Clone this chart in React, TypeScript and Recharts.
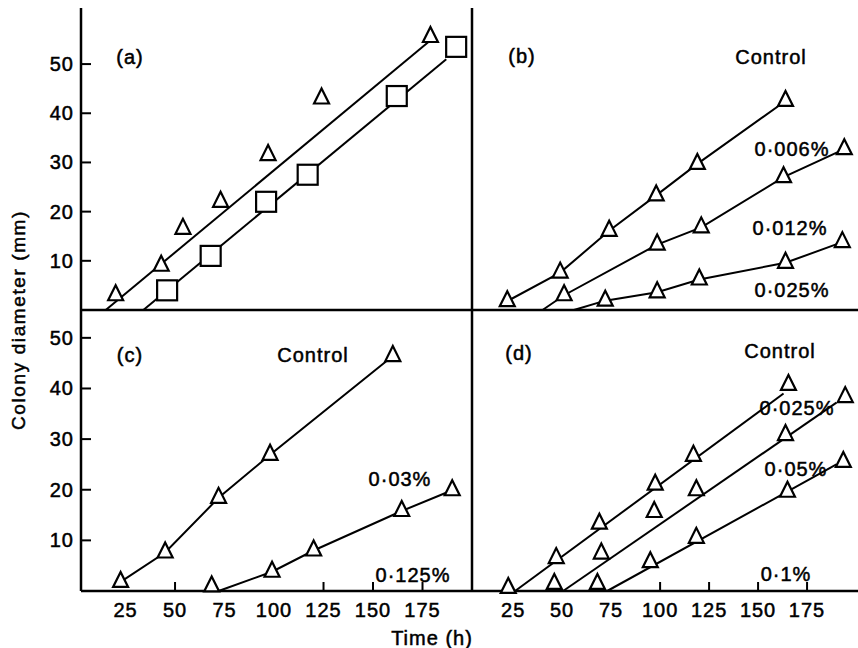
import React from 'react';
import { ComposedChart, Line, Scatter, XAxis, YAxis } from 'recharts';

const W = 858;
const H = 648;
const FONT = '"Liberation Sans", Arial, sans-serif';

// ---------- Panel (a) ----------
const aTriTime = [20, 43, 54, 73, 97, 124, 179];
const aTriDiam = [3, 9, 16.5, 22, 31.5, 43, 55.5];
const aTriFitTime = [15, 178];
const aTriFitDiam = [0, 54.5];
const aSqTime = [46, 68, 96, 117, 162, 192];
const aSqDiam = [4, 11, 22, 27.5, 43.5, 53.5];
const aSqFitTime = [34, 187];
const aSqFitDiam = [0, 51];

// ---------- Panel (b) ----------
const bCtrlTime = [22, 49, 74, 98, 119, 164];
const bCtrlDiam = [1.8, 7.6, 16.1, 23.3, 29.7, 42.5];
const b006Time = [51, 98.5, 121, 163, 194];
const b006Diam = [3, 13.3, 16.8, 27, 32.7];
const b006LineTime = [40, 51, 98.5, 121, 163, 194];
const b006LineDiam = [0, 3, 13.3, 16.8, 27, 32.7];
const b012Time = [72, 98.5, 120, 164, 193];
const b012Diam = [1.9, 3.6, 6.2, 9.6, 13.8];
const b012LineTime = [56, 72, 98.5, 120, 164, 193];
const b012LineDiam = [0, 1.9, 3.6, 6.2, 9.6, 13.8];

// ---------- Panel (c) ----------
const cCtrlTime = [22.5, 45, 72, 98, 160];
const cCtrlDiam = [1.8, 7.6, 18.4, 26.9, 46.4];
const c003Time = [68.5, 99, 120, 164.5, 190];
const c003Diam = [0.9, 3.8, 8, 15.8, 19.9];
const c003LineTime = [72, 99, 120, 164.5, 190];
const c003LineDiam = [0, 3.8, 8, 15.8, 19.9];

// ---------- Panel (d) ----------
const dCtrlTime = [22.5, 47, 69, 97.5, 117, 165.5];
const dCtrlDiam = [0.6, 6.5, 13.3, 21, 26.7, 40.7];
const dCtrlFitTime = [26, 163];
const dCtrlFitDiam = [0, 39];
const d025Time = [46, 70, 97, 118.5, 164, 194.5];
const d025Diam = [1.4, 7.4, 15.6, 19.9, 30.8, 38.3];
const d025FitTime = [50.5, 190];
const d025FitDiam = [0, 37.2];
const d05Time = [68, 95, 118.5, 165, 193.5];
const d05Diam = [1.4, 5.7, 10.5, 19.6, 25.5];
const d05FitTime = [73, 190];
const d05FitDiam = [0, 25];

// ---------- Axes ----------
const xTickValues = [25, 50, 75, 100, 125, 150, 175];
const yTickValues = [10, 20, 30, 40, 50];
const leftXMarks = [50, 125, 150, 175];
const rightXMarks = [100, 125, 150, 175];

const zip = (ts: number[], vs: number[]) => ts.map((t, i) => ({ t, v: vs[i] }));

const TEXT_STYLE = {
  fontFamily: FONT,
  fontSize: 20,
  letterSpacing: 1,
  fill: '#000',
  stroke: '#000',
  strokeWidth: 0.5,
};

const Tri = (p: any) => {
  const { cx, cy } = p;
  if (cx == null || cy == null) return null;
  const w = 15;
  const h = 15;
  return (
    <polygon
      points={`${cx},${cy - (2 * h) / 3} ${cx - w / 2},${cy + h / 3} ${cx + w / 2},${cy + h / 3}`}
      fill="#fff"
      stroke="#000"
      strokeWidth={2.2}
    />
  );
};

const Sq = (p: any) => {
  const { cx, cy } = p;
  if (cx == null || cy == null) return null;
  const s = 20;
  return <rect x={cx - s / 2} y={cy - s / 2} width={s} height={s} fill="#fff" stroke="#000" strokeWidth={2.2} />;
};

const makeXTick = (marks: number[]) => (p: any) => {
  const { x, y, payload } = p;
  const v = payload.value;
  return (
    <g>
      {marks.includes(v) && <line x1={x} y1={y} x2={x} y2={y - 9} stroke="#000" strokeWidth={2} />}
      <text x={x} y={y + 26} textAnchor="middle" {...TEXT_STYLE}>
        {v}
      </text>
    </g>
  );
};

const YTick = (p: any) => {
  const { x, y, payload } = p;
  return (
    <g>
      <line x1={x} y1={y} x2={x + 10} y2={y} stroke="#000" strokeWidth={2} />
      <text x={x - 7} y={y + 7} textAnchor="end" {...TEXT_STYLE}>
        {payload.value}
      </text>
    </g>
  );
};

type Series = { data: { t: number; v: number }[]; kind: 'line' | 'tri' | 'sq' };

type PanelProps = {
  margin: { top: number; right: number; bottom: number; left: number };
  xDomain: [number, number];
  yDomain: [number, number];
  left: boolean;
  bottom: boolean;
  marks: number[];
  series: Series[];
};

function Panel({ margin, xDomain, yDomain, left, bottom, marks, series }: PanelProps) {
  return (
    <div style={{ position: 'absolute', left: 0, top: 0, width: W, height: H }}>
      <ComposedChart width={W} height={H} margin={margin}>
        <XAxis
          type="number"
          dataKey="t"
          domain={xDomain}
          ticks={bottom ? xTickValues : []}
          tick={bottom ? makeXTick(marks) : false}
          tickLine={false}
          tickSize={0}
          tickMargin={0}
          height={bottom ? 40 : 1}
          axisLine={{ stroke: '#000', strokeWidth: 2.5 }}
          interval={0}
        />
        <YAxis
          type="number"
          dataKey="v"
          domain={yDomain}
          ticks={left ? yTickValues : []}
          tick={left ? YTick : false}
          tickLine={false}
          tickSize={0}
          tickMargin={0}
          width={left ? 81 : 1}
          axisLine={{ stroke: '#000', strokeWidth: 2.5 }}
          interval={0}
        />
        {series
          .filter((s) => s.kind === 'line')
          .map((s, i) => (
            <Line
              key={'l' + i}
              data={s.data}
              dataKey="v"
              type="linear"
              stroke="#000"
              strokeWidth={2}
              dot={false}
              activeDot={false}
              isAnimationActive={false}
            />
          ))}
        {series
          .filter((s) => s.kind !== 'line')
          .map((s, i) => (
            <Scatter
              key={'s' + i}
              data={s.data}
              dataKey="v"
              shape={s.kind === 'tri' ? Tri : Sq}
              isAnimationActive={false}
            />
          ))}
      </ComposedChart>
    </div>
  );
}

const notes = [
  { s: '(a)', x: 130, y: 64 },
  { s: '(b)', x: 522, y: 63 },
  { s: 'Control', x: 771, y: 64 },
  { s: '0·006%', x: 792, y: 156 },
  { s: '0·012%', x: 790, y: 235 },
  { s: '0·025%', x: 792, y: 297 },
  { s: '(c)', x: 130, y: 362 },
  { s: 'Control', x: 313, y: 362 },
  { s: '0·03%', x: 400, y: 486 },
  { s: '0·125%', x: 413, y: 582 },
  { s: '(d)', x: 519, y: 360 },
  { s: 'Control', x: 780, y: 358 },
  { s: '0·025%', x: 797, y: 415 },
  { s: '0·05%', x: 796, y: 476 },
  { s: '0·1%', x: 786, y: 581 },
];

export default function App() {
  const topY: [number, number] = [0, 61.4];
  const botY: [number, number] = [0, 55.5];
  const leftX: [number, number] = [2.5, 200];
  const rightX: [number, number] = [4, 201];
  return (
    <div style={{ position: 'absolute', left: 0, top: 0, width: W, height: H, background: '#fff', overflow: 'hidden' }}>
      <Panel
        margin={{ top: 8, right: 386, bottom: 337, left: 0 }}
        xDomain={leftX}
        yDomain={topY}
        left
        bottom={false}
        marks={[]}
        series={[
          { kind: 'line', data: zip(aTriFitTime, aTriFitDiam) },
          { kind: 'line', data: zip(aSqFitTime, aSqFitDiam) },
          { kind: 'tri', data: zip(aTriTime, aTriDiam) },
          { kind: 'sq', data: zip(aSqTime, aSqDiam) },
        ]}
      />
      <Panel
        margin={{ top: 8, right: 0, bottom: 337, left: 471 }}
        xDomain={rightX}
        yDomain={topY}
        left={false}
        bottom={false}
        marks={[]}
        series={[
          { kind: 'line', data: zip(bCtrlTime, bCtrlDiam) },
          { kind: 'line', data: zip(b006LineTime, b006LineDiam) },
          { kind: 'line', data: zip(b012LineTime, b012LineDiam) },
          { kind: 'tri', data: zip(bCtrlTime, bCtrlDiam) },
          { kind: 'tri', data: zip(b006Time, b006Diam) },
          { kind: 'tri', data: zip(b012Time, b012Diam) },
        ]}
      />
      <Panel
        margin={{ top: 310, right: 386, bottom: 17, left: 0 }}
        xDomain={leftX}
        yDomain={botY}
        left
        bottom
        marks={leftXMarks}
        series={[
          { kind: 'line', data: zip(cCtrlTime, cCtrlDiam) },
          { kind: 'line', data: zip(c003LineTime, c003LineDiam) },
          { kind: 'tri', data: zip(cCtrlTime, cCtrlDiam) },
          { kind: 'tri', data: zip(c003Time, c003Diam) },
        ]}
      />
      <Panel
        margin={{ top: 310, right: 0, bottom: 17, left: 471 }}
        xDomain={rightX}
        yDomain={botY}
        left={false}
        bottom
        marks={rightXMarks}
        series={[
          { kind: 'line', data: zip(dCtrlFitTime, dCtrlFitDiam) },
          { kind: 'line', data: zip(d025FitTime, d025FitDiam) },
          { kind: 'line', data: zip(d05FitTime, d05FitDiam) },
          { kind: 'tri', data: zip(dCtrlTime, dCtrlDiam) },
          { kind: 'tri', data: zip(d025Time, d025Diam) },
          { kind: 'tri', data: zip(d05Time, d05Diam) },
        ]}
      />
      <svg width={W} height={H} style={{ position: 'absolute', left: 0, top: 0, pointerEvents: 'none' }}>
        {notes.map((n, i) => (
          <text key={i} x={n.x} y={n.y} textAnchor="middle" {...TEXT_STYLE}>
            {n.s}
          </text>
        ))}
        <text
          x={25}
          y={320}
          transform="rotate(-90 25 320)"
          textAnchor="middle"
          {...TEXT_STYLE}
          fontSize={19}
          letterSpacing={1.6}
        >
          Colony diameter (mm)
        </text>
        <text x={432} y={645} textAnchor="middle" {...TEXT_STYLE}>
          Time (h)
        </text>
      </svg>
    </div>
  );
}
